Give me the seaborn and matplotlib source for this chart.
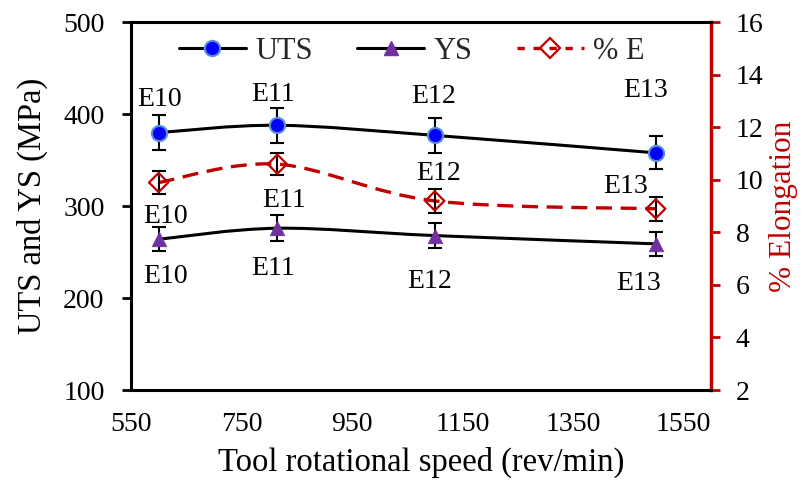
import numpy as np
import pandas as pd
import matplotlib
matplotlib.use("Agg")
import matplotlib.pyplot as plt
import seaborn as sns
from matplotlib.path import Path
from matplotlib.patches import PathPatch
from matplotlib.lines import Line2D

# ---------------- data ----------------
speed = [600, 815, 1100, 1500]
samples = ["E10", "E11", "E12", "E13"]
uts = [380, 388, 377, 358]
uts_err = [19, 19, 19, 18]
ys = [264, 276, 268, 259]
ys_err = [13, 14, 13.5, 13]
elong = [9.9, 10.6, 9.2, 8.9]
elong_err = [0.45, 0.43, 0.46, 0.45]

# sample annotations (text, and layout in data coords of left axis)
ann_text = ["E10", "E11", "E12", "E13", "E12", "E13", "E11", "E10",
            "E10", "E11", "E12", "E13"]
ann_x = [602, 807, 1098, 1482, 1106, 1446, 827, 613, 613, 807, 1091, 1469]
ann_y = [409, 414.5, 412.3, 418.8, 328.6, 314.5, 299.6, 281.8,
         216.6, 225.3, 211.2, 209]

x_ticks = [550, 750, 950, 1150, 1350, 1550]

df = pd.DataFrame({"speed": speed, "sample": samples, "UTS": uts, "YS": ys,
                   "E": elong})

# ---------------- style ----------------
sns.set_theme(style="white")
plt.rcParams["font.family"] = ["Liberation Serif", "DejaVu Serif"]
FS = 20
LFS = 23.5
RED = "#C00000"


def smooth_path(x, y):
    pts = np.column_stack([x, y]).astype(float)
    n = len(pts)
    verts = [pts[0]]
    codes = [Path.MOVETO]
    for i in range(n - 1):
        p0 = pts[max(i - 1, 0)]
        p1 = pts[i]
        p2 = pts[i + 1]
        p3 = pts[min(i + 2, n - 1)]
        c1 = p1 + (p2 - p0) / 6.0
        c2 = p2 - (p3 - p1) / 6.0
        verts += [c1, c2, p2]
        codes += [Path.CURVE4] * 3
    return Path(verts, codes)


fig = plt.figure(figsize=(8.05, 4.83), dpi=100)
ax = fig.add_axes([0.1627, 0.1925, 0.8832 - 0.1627, 0.9538 - 0.1925])
ax2 = ax.twinx()

# smoothed lines
ax.add_patch(PathPatch(smooth_path(df["speed"], df["UTS"]), fill=False,
                       edgecolor="black", lw=2.2, zorder=2))
ax.add_patch(PathPatch(smooth_path(df["speed"], df["YS"]), fill=False,
                       edgecolor="black", lw=2.2, zorder=2))
ax2.add_patch(PathPatch(smooth_path(df["speed"], df["E"]), fill=False,
                        edgecolor=RED, lw=2.4, linestyle=(0, (4.8, 2.6)),
                        zorder=2))

# error bars
ax.errorbar(df["speed"], df["UTS"], yerr=uts_err, fmt="none", ecolor="black",
            elinewidth=1.5, capsize=5, capthick=1.5, zorder=3)
ax.errorbar(df["speed"], df["YS"], yerr=ys_err, fmt="none", ecolor="black",
            elinewidth=1.5, capsize=5, capthick=1.5, zorder=3)
ax2.errorbar(df["speed"], df["E"], yerr=elong_err, fmt="none", ecolor="black",
             elinewidth=1.5, capsize=5, capthick=1.5, zorder=3)

# markers
sns.scatterplot(data=df, x="speed", y="UTS", ax=ax, marker="o", s=120,
                color="blue", edgecolor="#5b8fd6", linewidth=1.5, zorder=4)
sns.scatterplot(data=df, x="speed", y="YS", ax=ax, marker="^", s=110,
                color="#7030A0", edgecolor="#7030A0", linewidth=0.5, zorder=4)
ax2.scatter(df["speed"], df["E"], marker="D", s=95, facecolors="none",
            edgecolors=RED, linewidths=1.6, zorder=4)

# annotations
for t, xx, yy in zip(ann_text, ann_x, ann_y):
    ax.text(xx, yy, t, ha="center", va="baseline", fontsize=20, color="black",
            zorder=5)

# axes limits, ticks
ax.set_xlim(550, 1600)
ax.set_ylim(100, 500)
ax2.set_ylim(2, 16)
ax.set_xticks(x_ticks)
ax.set_yticks(range(100, 501, 100))
ax2.set_yticks(range(2, 17, 2))

ax.set_xlabel("Tool rotational speed (rev/min)", fontsize=LFS, color="black",
              labelpad=7)
ax.set_ylabel("UTS and YS (MPa)", fontsize=LFS, color="black", labelpad=11)
ax2.set_ylabel("% Elongation", fontsize=22.5, color=RED, labelpad=4)

for a in (ax, ax2):
    a.tick_params(axis="both", which="major", direction="out", length=6.5,
                  width=2, labelsize=FS, colors="black")
ax.tick_params(axis="y", pad=12.5)
ax.tick_params(axis="x", pad=9.5)
ax2.tick_params(axis="y", colors=RED, labelcolor="black", pad=11.5)

for s in ("left", "bottom", "top"):
    ax.spines[s].set_color("black")
    ax.spines[s].set_linewidth(2.2)
ax.spines["right"].set_visible(False)
for s in ("left", "bottom", "top"):
    ax2.spines[s].set_visible(False)
ax2.spines["right"].set_color(RED)
ax2.spines["right"].set_linewidth(2.5)
ax.set_zorder(ax2.get_zorder() + 1)
ax.patch.set_visible(False)

handles = [
    Line2D([], [], color="black", lw=2.2, marker="o", markersize=11,
           markerfacecolor="blue", markeredgecolor="#5b8fd6",
           markeredgewidth=1.5),
    Line2D([], [], color="black", lw=2.2, marker="^", markersize=10.5,
           markerfacecolor="#7030A0", markeredgecolor="#7030A0"),
    Line2D([], [], color=RED, lw=2.4, linestyle=(0, (2.2, 2.6)), marker="D",
           markersize=9.7, markerfacecolor="none", markeredgecolor=RED,
           markeredgewidth=1.6),
]
ax.legend(handles, ["UTS", "YS", "% E"], loc="upper center",
          bbox_to_anchor=(0.484, 1.035), ncol=3, frameon=False,
          fontsize=22, handlelength=2.2, columnspacing=1.45, handletextpad=0.3)

fig.savefig("out.png", dpi=100)
